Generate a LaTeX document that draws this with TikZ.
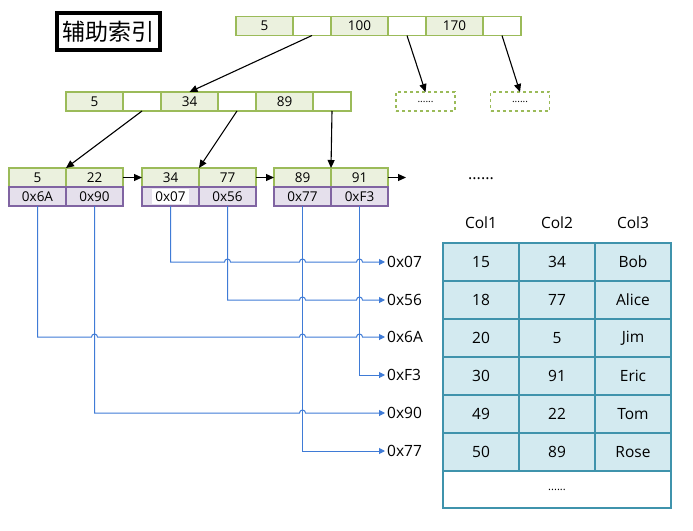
\documentclass[tikz,border=0pt]{standalone}
\usepackage{fontspec}
\setmainfont{Open Sans}
\newfontfamily\cjkfont{Noto Sans CJK SC}
\usetikzlibrary{positioning,arrows.meta}

\definecolor{keyfill}{HTML}{EBF1DE}
\definecolor{keyline}{HTML}{9BBB59}
\definecolor{addrfill}{HTML}{E5E0EC}
\definecolor{addrline}{HTML}{8064A2}
\definecolor{rowfill}{HTML}{D3EAF0}
\definecolor{rowline}{HTML}{3F93AC}
\definecolor{linkblue}{HTML}{3F7BD6}

\tikzset{
  cell/.style={outer sep=0pt,inner sep=0pt,line width=1.6pt,minimum height=19pt,font=\fontsize{13.5}{15}\selectfont},
  keycell/.style={cell,draw=keyline,fill=keyfill,minimum width=57pt},
  ptrcell/.style={cell,draw=keyline,fill=white,minimum width=38pt},
  addrcell/.style={cell,draw=addrline,fill=addrfill,minimum width=57pt},
  dotbox/.style={cell,draw=keyline,dashed,minimum width=59pt,font=\fontsize{10}{12}\selectfont},
  rowcell/.style={outer sep=0pt,draw=rowline,fill=rowfill,line width=1.6pt,minimum width=76pt,minimum height=38pt,font=\fontsize{15.5}{17}\selectfont},
  addrlabel/.style={anchor=west,inner sep=2pt,font=\fontsize{15.5}{17}\selectfont},
  treearrow/.style={-{Triangle[length=8pt,width=7pt]},line width=1.1pt},
  addrlink/.style={draw=linkblue,line width=1pt,-{Triangle[length=6pt,width=6pt]}},
}
\newcommand{\hop}[2]{-- ([xshift=-3pt]#1 |- #2) arc[start angle=180,end angle=0,radius=3pt]}

\begin{document}
\begin{tikzpicture}[x=1pt,y=-1pt]
\useasboundingbox (0,0) rectangle (693,530);

% title
\node[draw,line width=4pt,fill=white,minimum width=103pt,minimum height=37pt,inner sep=0pt,
  font=\cjkfont\fontsize{23}{25}\selectfont] (title) at (108.5,31.5) {辅助索引};

% root
\node[keycell] (r1) at (264.5,26) {5};
\node[ptrcell,right=0pt of r1] (r1p) {};
\node[keycell,right=0pt of r1p] (r2) {100};
\node[ptrcell,right=0pt of r2] (r2p) {};
\node[keycell,right=0pt of r2p] (r3) {170};
\node[ptrcell,right=0pt of r3] (r3p) {};

% inner level
\node[keycell] (i1) at (94.5,101.5) {5};
\node[ptrcell,right=0pt of i1] (i1p) {};
\node[keycell,right=0pt of i1p] (i2) {34};
\node[ptrcell,right=0pt of i2] (i2p) {};
\node[keycell,right=0pt of i2p] (i3) {89};
\node[ptrcell,right=0pt of i3] (i3p) {};

\node[dotbox] (d1) at (425.5,101.5) {......};
\node[dotbox] (d2) at (520,101.5) {......};

% leaves
\node[keycell] (l1k1) at (37.5,177.5) {5};
\node[keycell,right=0pt of l1k1] (l1k2) {22};
\node[addrcell,below=0pt of l1k1] (l1a1) {0x6A};
\node[addrcell,below=0pt of l1k2] (l1a2) {0x90};

\node[keycell] (l2k1) at (170.5,177.5) {34};
\node[keycell,right=0pt of l2k1] (l2k2) {77};
\node[addrcell,below=0pt of l2k1] (l2a1) {\colorbox{white}{0x07}};
\node[addrcell,below=0pt of l2k2] (l2a2) {0x56};

\node[keycell] (l3k1) at (302.5,177.5) {89};
\node[keycell,right=0pt of l3k1] (l3k2) {91};
\node[addrcell,below=0pt of l3k1] (l3a1) {0x77};
\node[addrcell,below=0pt of l3k2] (l3a2) {0xF3};

\coordinate (next) at (406,177.5);
\node[font=\fontsize{16}{18}\selectfont] (more) at (481,179) {......};

% tree pointers
\draw[treearrow] (r1p.south) -- (i2.north);
\draw[treearrow] (r2p.south) -- (d1.north);
\draw[treearrow] (r3p.south) -- (d2.north);
\draw[treearrow] (i1p.south) -- (l1k1.north east);
\draw[treearrow] (i2p.south) -- (l2k1.north east);
\draw[treearrow] (i3p.south) -- (l3k1.north east);
\draw[treearrow] (l1k2.east) -- (l2k1.west);
\draw[treearrow] (l2k2.east) -- (l3k1.west);
\draw[treearrow] (l3k2.east) -- (next);

% row addresses
\node[addrlabel] (p07) at (385,262) {0x07};
\node[addrlabel] (p56) at (385,300) {0x56};
\node[addrlabel] (p6A) at (385,337) {0x6A};
\node[addrlabel] (pF3) at (385,375) {0xF3};
\node[addrlabel] (p90) at (385,413) {0x90};
\node[addrlabel] (p77) at (385,451) {0x77};

\draw[addrlink] (l2a1.south) -- (l2a1.south |- p07.west) \hop{l2a2.south}{p07.west} \hop{l3a1.south}{p07.west} \hop{l3a2.south}{p07.west} -- (p07.west);
\draw[addrlink] (l2a2.south) -- (l2a2.south |- p56.west) \hop{l3a1.south}{p56.west} \hop{l3a2.south}{p56.west} -- (p56.west);
\draw[addrlink] (l1a1.south) -- (l1a1.south |- p6A.west) \hop{l1a2.south}{p6A.west} \hop{l3a1.south}{p6A.west} \hop{l3a2.south}{p6A.west} -- (p6A.west);
\draw[addrlink] (l3a2.south) |- (pF3.west);
\draw[addrlink] (l1a2.south) -- (l1a2.south |- p90.west) \hop{l3a1.south}{p90.west} -- (p90.west);
\draw[addrlink] (l3a1.south) |- (p77.west);

% table
\node[font=\fontsize{15.5}{17}\selectfont] (c1) at (481,223) {Col1};
\node[font=\fontsize{15.5}{17}\selectfont] (c2) at (557,223) {Col2};
\node[font=\fontsize{15.5}{17}\selectfont] (c3) at (633,223) {Col3};
\foreach \y/\a/\b/\c [count=\i] in {262/15/34/Bob,300/18/77/Alice,338/20/5/Jim,376/30/91/Eric,414/49/22/Tom,452/50/89/Rose}{
  \node[rowcell] (t\i a) at (481,\y) {\a};
  \node[rowcell] (t\i b) at (557,\y) {\b};
  \node[rowcell] (t\i c) at (633,\y) {\c};
}
\node[rowcell,fill=white,minimum width=228pt,minimum height=37.5pt,font=\fontsize{11}{12}\selectfont] (trest) at (557,489.5) {......};
\end{tikzpicture}
\end{document}
